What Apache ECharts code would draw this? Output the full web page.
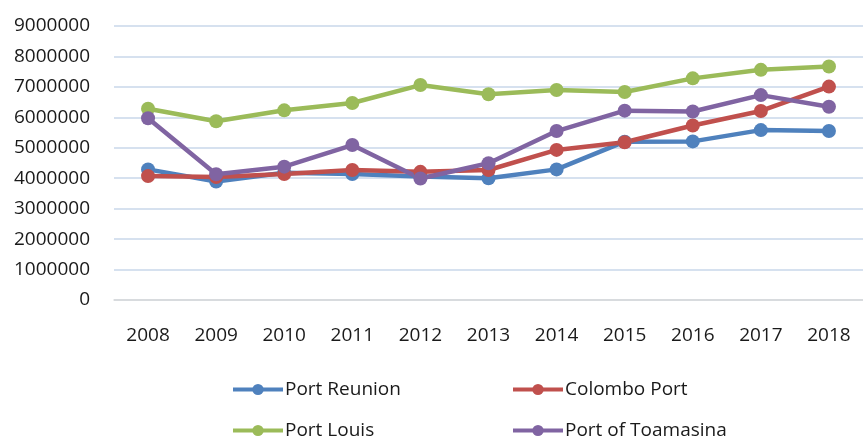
<!DOCTYPE html>
<html><head><meta charset="utf-8">
<script src="https://cdn.jsdelivr.net/npm/echarts@6/dist/echarts.min.js"></script>
<style>html,body{margin:0;padding:0;background:#fff}#c{width:863px;height:439px}</style>
</head><body><div id="c"></div>
<script>
const years = ['2008','2009','2010','2011','2012','2013','2014','2015','2016','2017','2018'];
const portReunion = [4290000,3890000,4180000,4140000,4060000,4000000,4290000,5200000,5210000,5580000,5550000];
const colomboPort = [4070000,4040000,4140000,4270000,4210000,4270000,4930000,5180000,5730000,6210000,7010000];
const portLouis = [6280000,5870000,6230000,6470000,7060000,6760000,6900000,6830000,7280000,7560000,7670000];
const portToamasina = [5970000,4130000,4380000,5090000,3990000,4490000,5550000,6220000,6190000,6730000,6350000];
const seriesNames = ['Port Reunion','Colombo Port','Port Louis','Port of Toamasina'];
const colors = ['#4F81BD','#C0504D','#9BBB59','#8064A2'];
const FONT = 'Open Sans';
const chart = echarts.init(document.getElementById('c'), null, {renderer:'canvas'});
const mk = (name, data, color) => ({
  name, type:'line', data, symbol:'circle', symbolSize:14,
  lineStyle:{width:4.5, color}, itemStyle:{color}, color, animation:false
});
const legendText = {fontFamily:FONT, fontSize:19, color:'#1a1a1a', padding:[0,0,0,-3]};
const legendBase = {orient:'vertical', top:380, height:70, padding:0, itemGap:22,
  itemWidth:50, itemHeight:14, textStyle:legendText, lineStyle:{width:4}};
chart.setOption({
  animation:false,
  grid:{left:114, top:26, width:760, height:274},
  xAxis:{type:'category', data:years, boundaryGap:true,
    axisLine:{lineStyle:{color:'#D9D9D9', width:1.5}}, axisTick:{show:false},
    axisLabel:{fontFamily:FONT, fontSize:19, color:'#1a1a1a', margin:26}},
  yAxis:{type:'value', min:0, max:9000000, interval:1000000,
    axisLine:{show:false}, axisTick:{show:false},
    splitLine:{lineStyle:{color:'#C9D7EA', width:1.5}},
    axisLabel:{fontFamily:FONT, fontSize:19, color:'#1a1a1a', margin:24, formatter:v => String(v)}},
  legend:[
    Object.assign({data:[seriesNames[0], seriesNames[2]], left:231}, legendBase),
    Object.assign({data:[seriesNames[1], seriesNames[3]], left:511}, legendBase)
  ],
  series:[
    mk(seriesNames[0], portReunion, colors[0]),
    mk(seriesNames[1], colomboPort, colors[1]),
    mk(seriesNames[2], portLouis, colors[2]),
    mk(seriesNames[3], portToamasina, colors[3])
  ]
});
</script></body></html>
